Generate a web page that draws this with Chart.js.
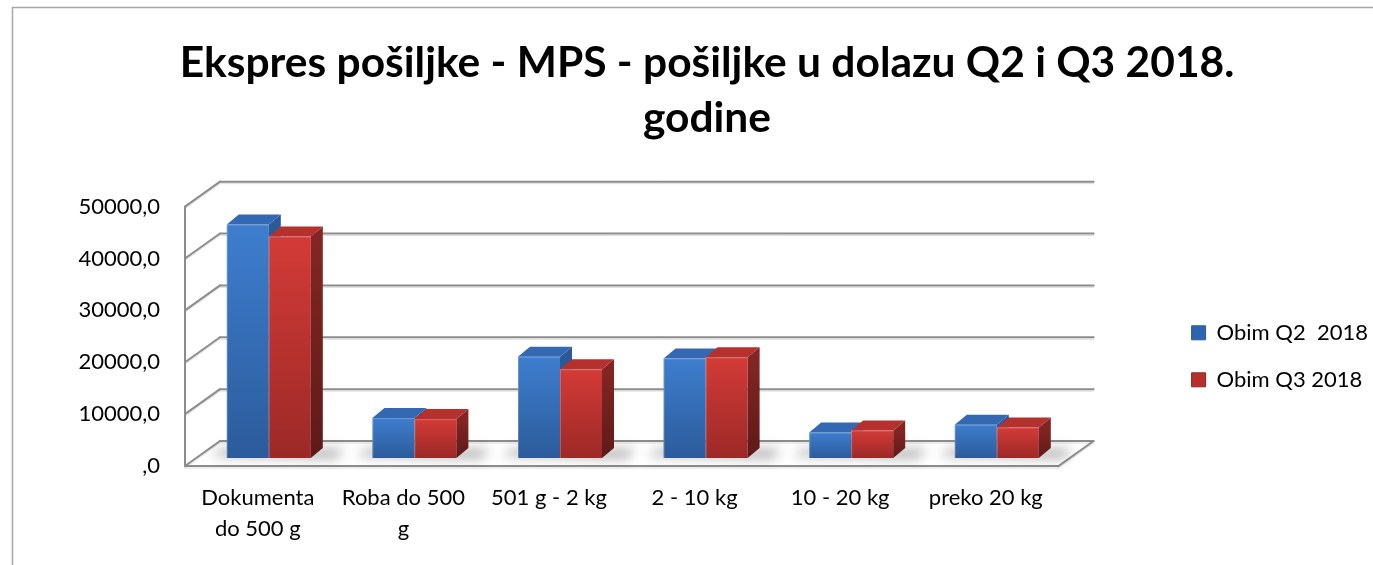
<!DOCTYPE html>
<html>
<head>
<meta charset="utf-8">
<script src="https://cdn.jsdelivr.net/npm/chart.js@4/dist/chart.umd.min.js"></script>
<style>
  html, body { margin: 0; padding: 0; background: #fff; }
  #wrap { width: 1373px; height: 565px; position: relative; }
</style>
</head>
<body>
<div id="wrap"><canvas id="c" width="1373" height="565"></canvas></div>
<script>
const categories = [['Dokumenta', 'do 500 g'], ['Roba do 500', 'g'], '501 g - 2 kg', '2 - 10 kg', '10 - 20 kg', 'preko 20 kg'];
const seriesNames = ['Obim Q2  2018', 'Obim Q3 2018'];
const q2Values = [45000, 7700, 19500, 19200, 4900, 6400];
const q3Values = [42700, 7500, 17100, 19400, 5300, 5900];
const yTickValues = [0, 10000, 20000, 30000, 40000, 50000];
const yTickLabels = [',0', '10000,0', '20000,0', '30000,0', '40000,0', '50000,0'];
const titleLines = ['Ekspres pošiljke - MPS - pošiljke u dolazu Q2 i Q3 2018.', 'godine'];

const FONT = 'Lato, "Open Sans", sans-serif';
const FRONT = { dx: -11, dy: 8 };   // floor front plane offset from bar plane
const BACK = { dx: 24, dy: -17 };   // back wall offset from bar plane
const BAR_DEPTH = { dx: 12, dy: 10 };

const styles = [
  { frontTop: '#3E7ECE', frontBot: '#2C5B9B', top: '#3568B2', sideTop: '#2C5A98', sideBot: '#224878', legend: '#2F65AE' },
  { frontTop: '#D33B37', frontBot: '#9C2927', top: '#B5312E', sideTop: '#832623', sideBot: '#5E1A18', legend: '#B8302D' }
];

function frontFill(idx) {
  return function (ctx) {
    const chart = ctx.chart;
    const s = styles[idx];
    if (!chart.chartArea || !chart.scales.y) return s.frontTop;
    const y = chart.scales.y;
    const top = y.getPixelForValue(ctx.raw);
    const bot = y.getPixelForValue(0);
    if (!isFinite(top) || !isFinite(bot) || top === bot) return s.frontTop;
    const g = chart.ctx.createLinearGradient(0, top, 0, bot);
    g.addColorStop(0, s.frontTop);
    g.addColorStop(1, s.frontBot);
    return g;
  };
}

const framePlugin = {
  id: 'frame',
  beforeDraw(chart) {
    const c = chart.ctx;
    c.save();
    c.fillStyle = '#fff';
    c.fillRect(0, 0, chart.width, chart.height);
    c.strokeStyle = '#a6a6a6';
    c.lineWidth = 1.5;
    c.strokeRect(12.5, 7.5, chart.width + 20, chart.height + 20);
    c.restore();
  }
};

function drawFaces(c, el, s, base, clipRect) {
  const l = el.x - el.width / 2, r = el.x + el.width / 2, t = el.y;
  const dx = BAR_DEPTH.dx, dy = BAR_DEPTH.dy;
  c.save();
  if (clipRect) {
    c.beginPath();
    c.rect(0, 0, 5000, 5000);
    c.rect(clipRect.l, clipRect.t, clipRect.r - clipRect.l, clipRect.b - clipRect.t);
    c.clip('evenodd');
  }
  const g = c.createLinearGradient(0, t, 0, base);
  g.addColorStop(0, s.sideTop); g.addColorStop(1, s.sideBot);
  c.fillStyle = g;
  c.beginPath();
  c.moveTo(r, t); c.lineTo(r + dx, t - dy); c.lineTo(r + dx, base - dy); c.lineTo(r, base);
  c.closePath(); c.fill();
  c.fillStyle = s.top;
  c.beginPath();
  c.moveTo(l, t); c.lineTo(l + dx, t - dy); c.lineTo(r + dx, t - dy); c.lineTo(r, t);
  c.closePath(); c.fill();
  c.strokeStyle = 'rgba(255,255,255,0.22)';
  c.lineWidth = 1;
  c.beginPath(); c.moveTo(l + 0.5, base); c.lineTo(l + 0.5, t + 0.5); c.lineTo(r, t + 0.5); c.stroke();
  c.restore();
}

const wallsPlugin = {
  id: 'walls',
  beforeDatasetsDraw(chart) {
    const c = chart.ctx;
    const ys = chart.scales.y;
    const xs = chart.scales.x;
    const L = xs.left, R = xs.right;
    const base = ys.getPixelForValue(0);
    const topV = ys.getPixelForValue(yTickValues[yTickValues.length - 1]);
    c.save();
    c.lineCap = 'round';
    function line(x1, y1, x2, y2) {
      c.strokeStyle = '#dedede'; c.lineWidth = 1;
      c.beginPath(); c.moveTo(x1, y1 + 2); c.lineTo(x2, y2 + 2); c.stroke();
      c.strokeStyle = '#8c8c8c'; c.lineWidth = 2;
      c.beginPath(); c.moveTo(x1, y1); c.lineTo(x2, y2); c.stroke();
    }
    yTickValues.forEach(v => {
      const p = ys.getPixelForValue(v);
      line(L + BACK.dx, p + BACK.dy, R + BACK.dx, p + BACK.dy);
      line(L + FRONT.dx, p + FRONT.dy, L + BACK.dx, p + BACK.dy);
    });
    line(L + FRONT.dx, topV + FRONT.dy, L + FRONT.dx, base + FRONT.dy);
    line(L + FRONT.dx, base + FRONT.dy, R + FRONT.dx, base + FRONT.dy);
    line(R + FRONT.dx, base + FRONT.dy, R + BACK.dx, base + BACK.dy);

    const m0 = chart.getDatasetMeta(0), m1 = chart.getDatasetMeta(1);
    c.filter = 'blur(6px)';
    c.fillStyle = 'rgba(0,0,0,0.3)';
    m0.data.forEach((el, i) => {
      const el2 = m1.data[i];
      const l = el.x - el.width / 2 - 16;
      const r = el2.x + el2.width / 2 + BAR_DEPTH.dx + 22;
      c.beginPath();
      c.moveTo(l, base - 2);
      c.lineTo(l + 10, base - 9);
      c.lineTo(r, base - 9);
      c.lineTo(r - 10, base + 1);
      c.closePath();
      c.fill();
    });
    c.filter = 'none';
    c.restore();
  },
  afterDatasetsDraw(chart) {
    const c = chart.ctx;
    const base = chart.scales.y.getPixelForValue(0);
    const m0 = chart.getDatasetMeta(0), m1 = chart.getDatasetMeta(1);
    m0.data.forEach((el, i) => {
      const el2 = m1.data[i];
      drawFaces(c, el, styles[0], base, {
        l: el2.x - el2.width / 2, r: el2.x + el2.width / 2, t: el2.y, b: base
      });
      drawFaces(c, el2, styles[1], base, null);
    });
  }
};

new Chart(document.getElementById('c'), {
  type: 'bar',
  data: {
    labels: categories,
    datasets: [
      { label: seriesNames[0], data: q2Values, backgroundColor: frontFill(0), borderWidth: 0 },
      { label: seriesNames[1], data: q3Values, backgroundColor: frontFill(1), borderWidth: 0 }
    ]
  },
  options: {
    responsive: false,
    animation: false,
    devicePixelRatio: 1,
    layout: { padding: { left: 36, right: -5, top: 0, bottom: 0 } },
    datasets: { bar: { barPercentage: 1.0, categoryPercentage: 0.577 } },
    scales: {
      x: {
        grid: { display: false, drawTicks: false },
        border: { display: false },
        ticks: {
          font: { family: FONT, size: 22, lineHeight: 1.4 },
          color: '#000',
          maxRotation: 0, minRotation: 0, autoSkip: false,
          padding: 25, labelOffset: -11
        },
        afterFit(s) { s.height = 107; }
      },
      y: {
        min: 0, max: 50000,
        grid: { display: false, drawTicks: false },
        border: { display: false },
        afterBuildTicks(s) { s.ticks = yTickValues.map(v => ({ value: v })); },
        ticks: {
          font: { family: FONT, size: 22 },
          color: '#000',
          padding: 36, labelOffset: 8,
          callback: (v) => yTickLabels[yTickValues.indexOf(v)]
        },
        afterFit(s) { s.width = 160; }
      },
      y2: {
        position: 'right', min: 0, max: 1,
        grid: { display: false, drawTicks: false },
        border: { display: false },
        ticks: { display: false },
        afterFit(s) { s.width = 97; }
      }
    },
    plugins: {
      title: {
        display: true,
        text: titleLines,
        color: '#000',
        font: { family: FONT, size: 42.5, weight: 'bold', lineHeight: 1.29 },
        padding: { top: 36, bottom: 53 }
      },
      legend: {
        position: 'right',
        fullSize: false,
        align: 'center',
        title: { display: true, text: ' ', font: { size: 10, lineHeight: 1.2 }, padding: { top: 0, bottom: 44 } },
        labels: {
          font: { family: FONT, size: 22 },
          color: '#000',
          boxWidth: 14, boxHeight: 14, padding: 25,
          generateLabels(chart) {
            return chart.data.datasets.map((ds, i) => ({
              text: ds.label,
              fillStyle: styles[i].legend,
              strokeStyle: styles[i].sideTop,
              lineWidth: 1,
              hidden: false,
              datasetIndex: i,
              fontColor: '#000'
            }));
          }
        }
      },
      tooltip: { enabled: false }
    }
  },
  plugins: [framePlugin, wallsPlugin]
});
</script>
</body>
</html>
